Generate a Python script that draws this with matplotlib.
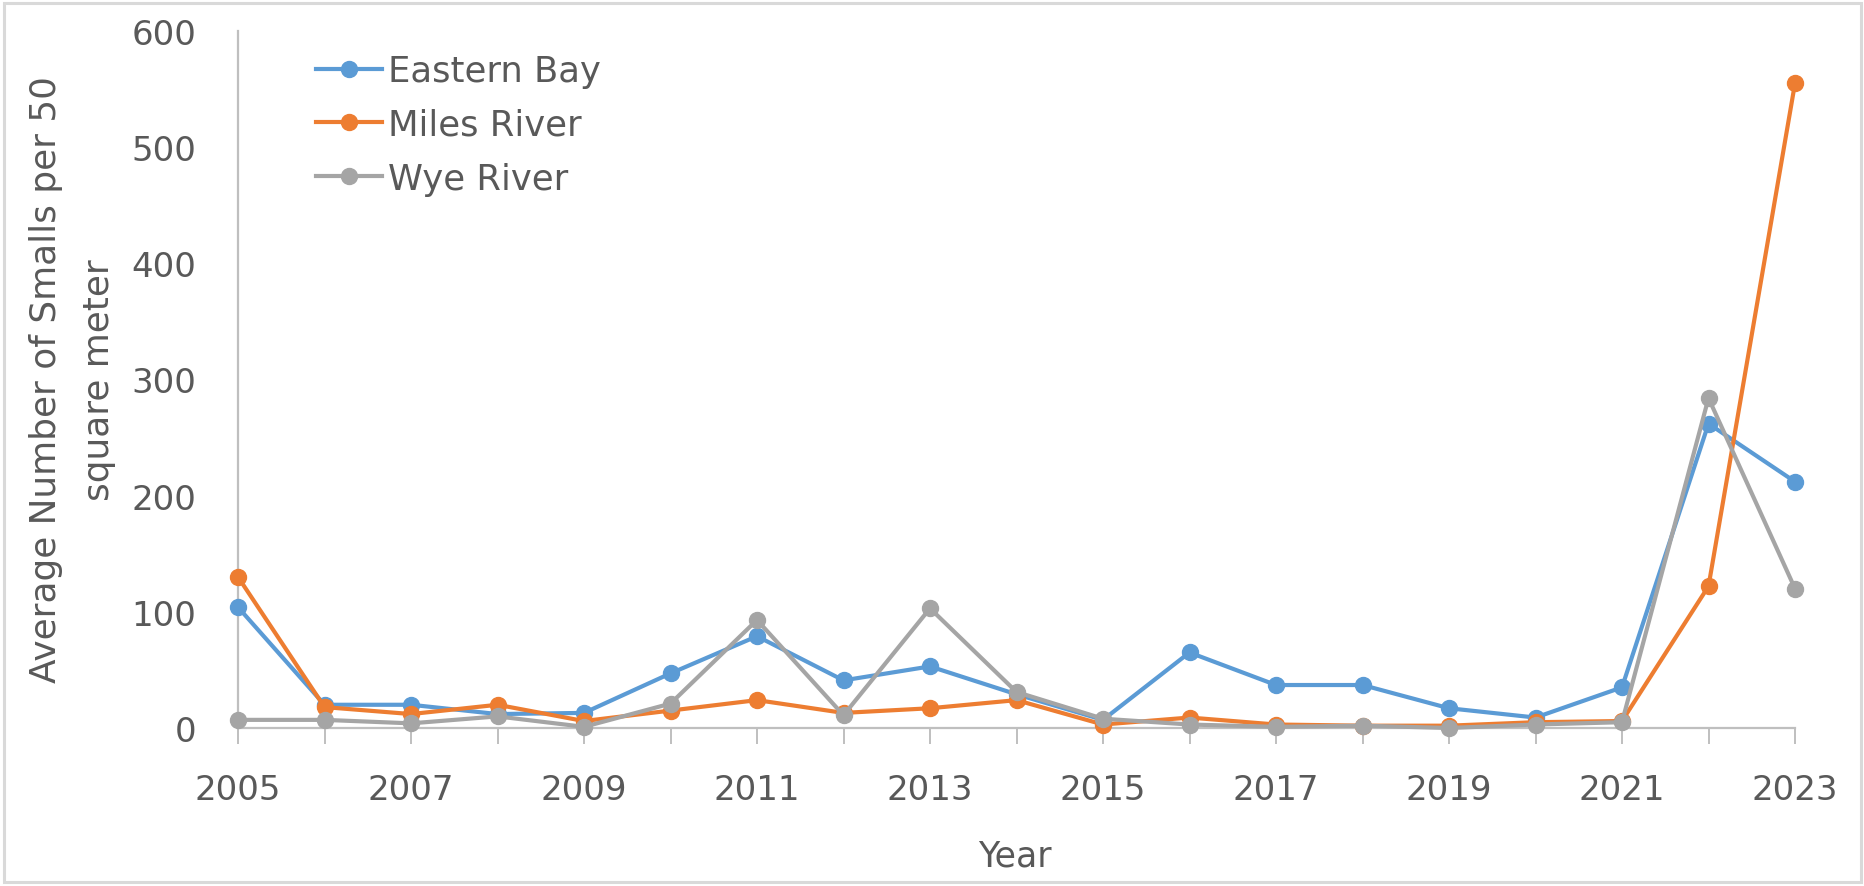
import matplotlib
matplotlib.use("Agg")
import matplotlib.pyplot as plt
from matplotlib.patches import Rectangle

# ---- data ----
years = list(range(2005, 2024))
eastern_bay = [104, 20, 20, 12, 13, 47, 79, 41, 53, 29, 7, 65, 37, 37, 17, 9, 35, 262, 212]
miles_river = [130, 18, 12, 20, 6, 15, 24, 13, 17, 24, 3, 9, 3, 2, 2, 5, 6, 122, 555]
wye_river = [7, 7, 4, 10, 1, 21, 93, 11, 103, 31, 8, 3, 1, 2, 0, 3, 5, 284, 120]
series_names = ["Eastern Bay", "Miles River", "Wye River"]
y_ticks = [0, 100, 200, 300, 400, 500, 600]
x_label = "Year"
y_label = "Average Number of Smalls per 50\nsquare meter"

# ---- style ----
W, H, DPI = 1865, 887, 100
TXT = "#595959"
AX = "#BFBFBF"
colors = ["#5B9BD5", "#ED7D31", "#A5A5A5"]
FS = 25

plt.rcParams["font.family"] = ["DejaVu Sans"]

fig = plt.figure(figsize=(W / DPI, H / DPI), dpi=DPI)
fig.patch.set_facecolor("white")

# axes placement in pixels
x0, x1 = 238, 1795
y_top, y_bot = 32, 729
ax = fig.add_axes([x0 / W, 1 - y_bot / H, (x1 - x0) / W, (y_bot - y_top) / H])

for vals, name, c in zip([eastern_bay, miles_river, wye_river], series_names, colors):
    ax.plot(years, vals, color=c, lw=3.0, marker="o", markersize=11.5,
            markeredgecolor=c, markerfacecolor=c, label=name, clip_on=False, zorder=3)

ax.set_xlim(2005, 2023)
ax.set_ylim(0, 600)
ax.set_yticks(y_ticks)
ax.set_yticklabels([str(v) for v in y_ticks])
ax.set_xticks(years)
ax.set_xticklabels([str(y) if (y - 2005) % 2 == 0 else "" for y in years])

for s in ["top", "right"]:
    ax.spines[s].set_visible(False)
for s in ["left", "bottom"]:
    ax.spines[s].set_color(AX)
    ax.spines[s].set_linewidth(1.6)

ax.tick_params(axis="x", direction="out", length=11.5, width=1.4, color=AX,
               labelsize=24.5, labelcolor=TXT, pad=21)
ax.tick_params(axis="y", length=0, labelsize=24.5, labelcolor=TXT, pad=30)

ax.set_xlabel(x_label, fontsize=FS, color=TXT)
ax.xaxis.set_label_coords(1015 / W, 1 - 840 / H, transform=fig.transFigure)
ax.set_ylabel(y_label, fontsize=25.8, color=TXT, linespacing=1.72, multialignment="center")
ax.yaxis.set_label_coords(116 / W, 1 - 380 / H, transform=fig.transFigure)

leg = ax.legend(loc="upper left", bbox_to_anchor=(316 / W, 1 - 55 / H),
                bbox_transform=fig.transFigure, frameon=False, fontsize=25.5,
                handlelength=1.85, handletextpad=0.17, labelspacing=0.56,
                borderpad=0, borderaxespad=0)
for t in leg.get_texts():
    t.set_color(TXT)

# chart border
fig.patches.append(Rectangle((4 / W, 4 / H), (W - 8) / W, (H - 8) / H,
                             transform=fig.transFigure, fill=False,
                             edgecolor="#D9D9D9", linewidth=2.2))

fig.savefig("out.png", dpi=DPI, facecolor="white")
